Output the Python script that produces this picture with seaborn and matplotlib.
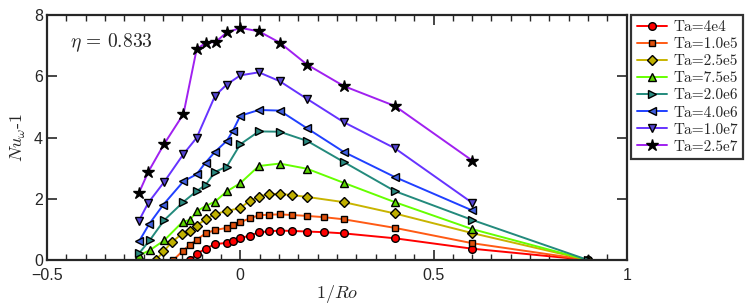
import numpy as np
import pandas as pd
import matplotlib
matplotlib.use("Agg")
import matplotlib.pyplot as plt
from matplotlib.ticker import MultipleLocator
import seaborn as sns

# ---------------- data ----------------
labels = ["Ta=4e4", "Ta=1.0e5", "Ta=2.5e5", "Ta=7.5e5",
          "Ta=2.0e6", "Ta=4.0e6", "Ta=1.0e7", "Ta=2.5e7"]

x_4e4 = [-0.130, -0.113, -0.090, -0.065, -0.035, -0.020, 0.0, 0.024, 0.048, 0.074,
         0.102, 0.134, 0.173, 0.216, 0.268, 0.4, 0.6, 0.9]
y_4e4 = [0.0, 0.20, 0.37, 0.52, 0.56, 0.63, 0.71, 0.80, 0.90, 0.94,
         0.96, 0.95, 0.93, 0.91, 0.87, 0.71, 0.37, 0.0]

x_1e5 = [-0.173, -0.149, -0.130, -0.113, -0.090, -0.065, -0.035, -0.020, 0.0, 0.024,
         0.048, 0.074, 0.102, 0.134, 0.173, 0.216, 0.268, 0.4, 0.6, 0.9]
y_1e5 = [0.0, 0.30, 0.50, 0.66, 0.87, 0.98, 1.05, 1.15, 1.23, 1.36,
         1.46, 1.48, 1.49, 1.47, 1.44, 1.40, 1.33, 1.05, 0.55, 0.0]

x_25e5 = [-0.218, -0.199, -0.177, -0.151, -0.130, -0.113, -0.090, -0.065, -0.035, 0.0,
          0.024, 0.048, 0.074, 0.102, 0.134, 0.173, 0.268, 0.4, 0.6, 0.9]
y_25e5 = [0.0, 0.28, 0.58, 0.86, 0.96, 1.12, 1.33, 1.50, 1.60, 1.70,
          1.93, 2.07, 2.16, 2.16, 2.12, 2.06, 1.89, 1.52, 0.88, 0.0]

x_75e5 = [-0.262, -0.234, -0.197, -0.149, -0.130, -0.113, -0.090, -0.065, -0.035, 0.0,
          0.048, 0.102, 0.173, 0.268, 0.4, 0.6, 0.9]
y_75e5 = [0.15, 0.32, 0.64, 1.25, 1.31, 1.59, 1.76, 1.91, 2.24, 2.51,
          3.07, 3.15, 2.98, 2.52, 1.89, 1.01, 0.0]

x_2e6 = [-0.262, -0.234, -0.197, -0.147, -0.113, -0.090, -0.065, -0.035, 0.0,
         0.048, 0.102, 0.173, 0.268, 0.4, 0.6, 0.9]
y_2e6 = [0.22, 0.65, 1.30, 1.90, 2.25, 2.45, 2.88, 3.05, 3.78,
         4.20, 4.19, 3.89, 3.20, 2.25, 1.31, 0.0]

x_4e6 = [-0.262, -0.236, -0.199, -0.147, -0.113, -0.090, -0.065, -0.035, -0.020, 0.0,
         0.048, 0.102, 0.173, 0.268, 0.4, 0.6]
y_4e6 = [0.61, 1.17, 1.81, 2.57, 2.80, 3.18, 3.54, 3.89, 4.20, 4.71,
         4.90, 4.88, 4.30, 3.53, 2.71, 1.62]

x_1e7 = [-0.262, -0.238, -0.197, -0.147, -0.113, -0.065, -0.035, 0.0,
         0.048, 0.102, 0.173, 0.268, 0.4, 0.6]
y_1e7 = [1.29, 1.87, 2.55, 3.46, 3.99, 5.37, 5.73, 6.03,
         6.13, 5.84, 5.26, 4.50, 3.65, 1.87]

x_25e7 = [-0.262, -0.238, -0.197, -0.147, -0.113, -0.089, -0.064, -0.035, 0.0,
          0.048, 0.102, 0.173, 0.268, 0.4, 0.6]
y_25e7 = [2.20, 2.88, 3.79, 4.77, 6.88, 7.10, 7.12, 7.43, 7.58,
          7.47, 7.10, 6.38, 5.68, 5.03, 3.25]

xs = [x_4e4, x_1e5, x_25e5, x_75e5, x_2e6, x_4e6, x_1e7, x_25e7]
ys = [y_4e4, y_1e5, y_25e5, y_75e5, y_2e6, y_4e6, y_1e7, y_25e7]

line_colors = ["#ff0000", "#ff5a14", "#c8b400", "#66ff00",
               "#238a7c", "#2040ff", "#6633ff", "#a020f0"]
face_colors = ["#ff0000", "#e0500c", "#c0b000", "#5cd400",
               "#2a8a80", "#4060e0", "#5545d0", "#000000"]
markers = ["o", "s", "D", "^", ">", "<", "v", "*"]
msizes = [5.5, 4.8, 4.6, 6, 6, 6, 6, 9]

# ---------------- style ----------------
sns.set_style("ticks")
plt.rcParams["font.family"] = ["Liberation Sans", "DejaVu Sans"]
plt.rcParams["mathtext.fontset"] = "cm"
plt.rcParams["axes.unicode_minus"] = True

fig = plt.figure(figsize=(7.47, 3.07), dpi=100)
ax = fig.add_axes([0.063, 0.153, 0.776, 0.798])

for i, lab in enumerate(labels):
    df = pd.DataFrame({"x": xs[i], "y": ys[i]})
    sns.lineplot(data=df, x="x", y="y", ax=ax, color=line_colors[i],
                 marker=markers[i], markersize=msizes[i],
                 markerfacecolor=face_colors[i], markeredgecolor="black",
                 markeredgewidth=1.0, linewidth=1.4, label=lab,
                 sort=False, estimator=None)

ax.set_xlim(-0.5, 1.0)
ax.set_ylim(0, 8)
ax.xaxis.set_minor_locator(MultipleLocator(0.05))
ax.yaxis.set_major_locator(MultipleLocator(2))
ax.set_xticks([-0.5, 0, 0.5, 1])
ax.set_xticklabels(["\u22120.5", "0", "0.5", "1"])
ax.tick_params(which="both", direction="in", top=True, right=True,
               labelsize=11.5)
ax.tick_params(axis="x", pad=6)
ax.tick_params(axis="y", pad=3)
ax.tick_params(which="major", length=7, width=1.2)
ax.tick_params(which="minor", length=4, width=1.0)
for sp in ax.spines.values():
    sp.set_linewidth(1.6)

ax.set_xlabel(r"$1/Ro$", fontsize=13, labelpad=0)
ax.set_ylabel(r"$Nu_\omega$-1", fontsize=13, labelpad=4, family="cmr10")
ax.text(-0.44, 7.1, r"$\eta\, =\, 0.833$", fontsize=14, va="center", ha="left")

leg = ax.legend(loc="upper left", bbox_to_anchor=(1.008, 1.0), borderaxespad=0,
                frameon=True, fancybox=False, edgecolor="black",
                prop={"family": "cmr10", "size": 11}, handlelength=2.0,
                handletextpad=0.4, labelspacing=0.22, borderpad=0.35)
leg.get_frame().set_linewidth(1.6)

fig.savefig("out.png", dpi=100)
